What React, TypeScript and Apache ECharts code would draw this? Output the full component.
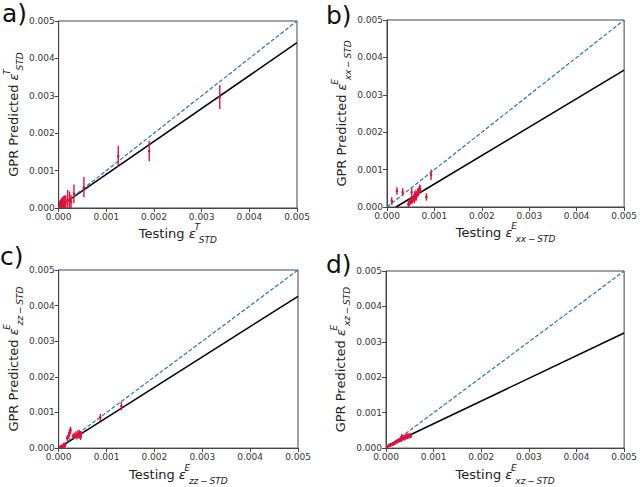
import React, { useEffect, useRef } from "react";
import * as echarts from "echarts";

// ---------- data ----------
const TICKS = [0, 0.001, 0.002, 0.003, 0.004, 0.005];
const PANEL_LABELS = ["a)", "b)", "c)", "d)"];

const A_X = [0.00002, 0.00003, 0.00004, 0.00005, 0.00006, 0.00007, 0.00008, 0.00009, 0.0001, 0.00011, 0.00012, 0.00013, 0.00015, 0.00019, 0.00023, 0.00026, 0.00032, 0.00053, 0.00125, 0.0019, 0.00338];
const A_Y = [0.00004, 0.00006, 0.00005, 0.00008, 0.00007, 0.0001, 0.00009, 0.00011, 0.0001, 0.00012, 0.00013, 0.00012, 0.00014, 0.00022, 0.0002, 0.00017, 0.00038, 0.00056, 0.00138, 0.00152, 0.00297];
const A_ERR = [0.00014, 0.00015, 0.00016, 0.00017, 0.00016, 0.00018, 0.00017, 0.00019, 0.00018, 0.0002, 0.0002, 0.00021, 0.0002, 0.00026, 0.00024, 0.00018, 0.00025, 0.00027, 0.00028, 0.00027, 0.00032];
const A_FIT_X = [0.00017, 0.005];
const A_FIT_Y = [0.00017, 0.00442];

const B_X = [0.0001, 0.00021, 0.00033, 0.00045, 0.00047, 0.0005, 0.00052, 0.00053, 0.00055, 0.00057, 0.00058, 0.0006, 0.00061, 0.00062, 0.00063, 0.00065, 0.00066, 0.00068, 0.0007, 0.00069, 0.00067, 0.00052, 0.00059, 0.00083, 0.00093];
const B_Y = [0.00016, 0.00043, 0.0004, 0.00008, 0.00012, 0.00015, 0.0002, 0.00017, 0.00022, 0.00025, 0.0002, 0.00028, 0.00032, 0.00027, 0.00035, 0.0004, 0.00038, 0.00045, 0.00048, 0.0005, 0.00042, 0.0004, 0.00036, 0.00027, 0.00086];
const B_ERR = [0.0001, 0.0001, 0.0001, 0.00008, 0.00009, 0.00009, 0.0001, 0.00008, 0.00009, 0.0001, 0.00009, 0.0001, 0.00009, 0.0001, 0.00009, 0.0001, 0.00009, 0.0001, 0.00009, 0.0001, 0.00009, 0.0001, 0.00009, 0.0001, 0.00014];
const B_FIT_X = [0.00019, 0.005];
const B_FIT_Y = [0, 0.00366];

const C_X = [0.00003, 0.00005, 0.00008, 0.0001, 0.00012, 0.00014, 0.00018, 0.00021, 0.00023, 0.00025, 0.0003, 0.00033, 0.00036, 0.00038, 0.0004, 0.00042, 0.00043, 0.00044, 0.00045, 0.00047, 0.00046, 0.00087, 0.00131];
const C_Y = [0.00002, 0.00004, 0.00003, 0.00008, 0.00005, 0.0001, 0.00028, 0.00035, 0.00045, 0.0005, 0.00033, 0.00035, 0.00038, 0.00032, 0.0004, 0.00036, 0.00042, 0.00034, 0.00038, 0.0004, 0.00031, 0.00086, 0.00118];
const C_ERR = [0.00005, 0.00006, 0.00005, 0.00007, 0.00006, 0.00007, 0.00008, 0.0001, 0.0001, 0.0001, 0.00008, 0.00008, 0.00009, 0.00008, 0.0001, 0.00008, 0.00009, 0.00008, 0.0001, 0.00008, 0.00008, 0.0001, 0.00012];
const C_FIT_X = [0.00003, 0.005];
const C_FIT_Y = [0.00003, 0.00426];

const D_X = [0.00002, 0.00005, 0.00008, 0.0001, 0.00013, 0.00015, 0.00018, 0.0002, 0.00023, 0.00025, 0.00028, 0.0003, 0.00032, 0.00034, 0.00036, 0.00037, 0.00039, 0.0004, 0.00042, 0.00043, 0.00045, 0.00046, 0.00048, 0.0005, 0.00052, 0.00033];
const D_Y = [0.00005, 0.00006, 0.00008, 0.00009, 0.00011, 0.00012, 0.00014, 0.00016, 0.00018, 0.0002, 0.00022, 0.00025, 0.00023, 0.00027, 0.00029, 0.0003, 0.00027, 0.00032, 0.0003, 0.00034, 0.00031, 0.00035, 0.00033, 0.00036, 0.00034, 0.00032];
const D_ERR = [0.00004, 0.00004, 0.00005, 0.00005, 0.00005, 0.00006, 0.00005, 0.00006, 0.00006, 0.00006, 0.00006, 0.00007, 0.00006, 0.00007, 0.00006, 0.00007, 0.00006, 0.00007, 0.00006, 0.00007, 0.00006, 0.00007, 0.00006, 0.00007, 0.00006, 0.00008];
const D_FIT_X = [0.00005, 0.005];
const D_FIT_Y = [0.00008, 0.00325];

const SUP = ["T", "E", "E", "E"];
const SUB = ["STD", "xx\u2009−\u2009STD", "zz\u2009−\u2009STD", "xz\u2009−\u2009STD"];

const PANELS = [
  { x: A_X, y: A_Y, err: A_ERR, fx: A_FIT_X, fy: A_FIT_Y },
  { x: B_X, y: B_Y, err: B_ERR, fx: B_FIT_X, fy: B_FIT_Y },
  { x: C_X, y: C_Y, err: C_ERR, fx: C_FIT_X, fy: C_FIT_Y },
  { x: D_X, y: D_Y, err: D_ERR, fx: D_FIT_X, fy: D_FIT_Y },
];

// ---------- layout / style ----------
const GRIDS = [
  { left: 57, right: 343, top: 21, bottom: 279 },
  { left: 387, right: 12, top: 20, bottom: 280 },
  { left: 58, right: 342, top: 270, bottom: 31 },
  { left: 386, right: 11, top: 271, bottom: 30 },
];
const LABEL_POS = [
  [2, 1],
  [326, 3],
  [0, 244],
  [326, 252],
];
const FONT = "DejaVu Sans";
const RED = "#dc143c";
const BLUE = "#1f77b4";
const FRAME = "#444";

const baseTok = { fontSize: 13, fontFamily: FONT, color: "#222", lineHeight: 24, verticalAlign: "middle" };
const supTok = { fontSize: 9, fontFamily: FONT, fontStyle: "italic", color: "#222", lineHeight: 24, verticalAlign: "top", padding: [1, 0, 0, 1], width: 1 };
const subTok = { fontSize: 9, fontFamily: FONT, fontStyle: "italic", color: "#222", lineHeight: 24, verticalAlign: "bottom", padding: [0, 0, 1, 1] };

const rich = {
  n: { ...baseTok },
  e: { ...baseTok, fontStyle: "italic" },
  sup: supTok,
  sub: subTok,
};

function axisName(prefix: string, i: number) {
  return `{n|${prefix}}{e|ε}{sup|${SUP[i]}}{sub|${SUB[i]}}`;
}

export default function App() {
  const ref = useRef<HTMLDivElement>(null);
  useEffect(() => {
    if (!ref.current) return;
    const chart = echarts.init(ref.current, null, { renderer: "svg" });

    const common = {
      type: "value",
      min: 0,
      max: 0.005,
      interval: 0.001,
      axisLine: { show: true, lineStyle: { color: FRAME, width: 1 } },
      axisTick: { show: true, length: 4, lineStyle: { color: FRAME } },
      splitLine: { show: false },
      axisLabel: {
        fontSize: 9,
        fontFamily: FONT,
        color: "#333",
        margin: 4,
        formatter: (v: number) => v.toFixed(3),
      },
      nameLocation: "middle",
      nameTextStyle: { rich },
    };

    const xAxis = PANELS.map((_, i) => ({
      ...common,
      gridIndex: i,
      name: axisName("Testing ", i),
      nameGap: 8,
    }));
    const yAxis = PANELS.map((_, i) => ({
      ...common,
      gridIndex: i,
      name: axisName("GPR Predicted ", i),
      nameGap: 28,
    }));

    const series: any[] = [];
    PANELS.forEach((p, i) => {
      series.push({
        type: "line",
        xAxisIndex: i,
        yAxisIndex: i,
        data: p.fx.map((x, k) => [x, p.fy[k]]),
        showSymbol: false,
        lineStyle: { color: "#000", width: 1.5 },
        z: 2,
        silent: true,
      });
      series.push({
        type: "line",
        xAxisIndex: i,
        yAxisIndex: i,
        data: [
          [TICKS[0], TICKS[0]],
          [TICKS[TICKS.length - 1], TICKS[TICKS.length - 1]],
        ],
        showSymbol: false,
        lineStyle: { color: BLUE, width: 1.2, type: [4, 2] },
        z: 2,
        silent: true,
      });
      series.push({
        type: "custom",
        xAxisIndex: i,
        yAxisIndex: i,
        clip: true,
        z: 3,
        encode: { x: 0, y: 1 },
        data: p.x.map((x, k) => [x, p.y[k], p.err[k]]),
        renderItem: (params: any, api: any) => {
          const x = api.value(0);
          const y = api.value(1);
          const e = api.value(2);
          const top = api.coord([x, y + e]);
          const bot = api.coord([x, Math.max(0, y - e)]);
          const c = api.coord([x, y]);
          return {
            type: "group",
            children: [
              {
                type: "line",
                shape: { x1: top[0], y1: top[1], x2: bot[0], y2: bot[1] },
                style: { stroke: RED, lineWidth: 1.4 },
              },
              {
                type: "circle",
                shape: { cx: c[0], cy: c[1], r: 1.3 },
                style: { fill: RED },
              },
            ],
          };
        },
      });
    });

    chart.setOption({
      animation: false,
      backgroundColor: "#fff",
      textStyle: { fontFamily: FONT },
      grid: GRIDS.map((g) => ({ ...g, show: true, borderColor: FRAME, borderWidth: 1, backgroundColor: "transparent" })),
      xAxis,
      yAxis,
      series,
      graphic: PANEL_LABELS.map((t, i) => ({
        type: "text",
        left: LABEL_POS[i][0],
        top: LABEL_POS[i][1],
        style: { text: t, fontSize: 25, fontFamily: FONT, fill: "#111" },
      })),
    });

    return () => chart.dispose();
  }, []);

  return (
    <div
      ref={ref}
      style={{ position: "fixed", left: 0, top: 0, width: 640, height: 487 }}
    />
  );
}
